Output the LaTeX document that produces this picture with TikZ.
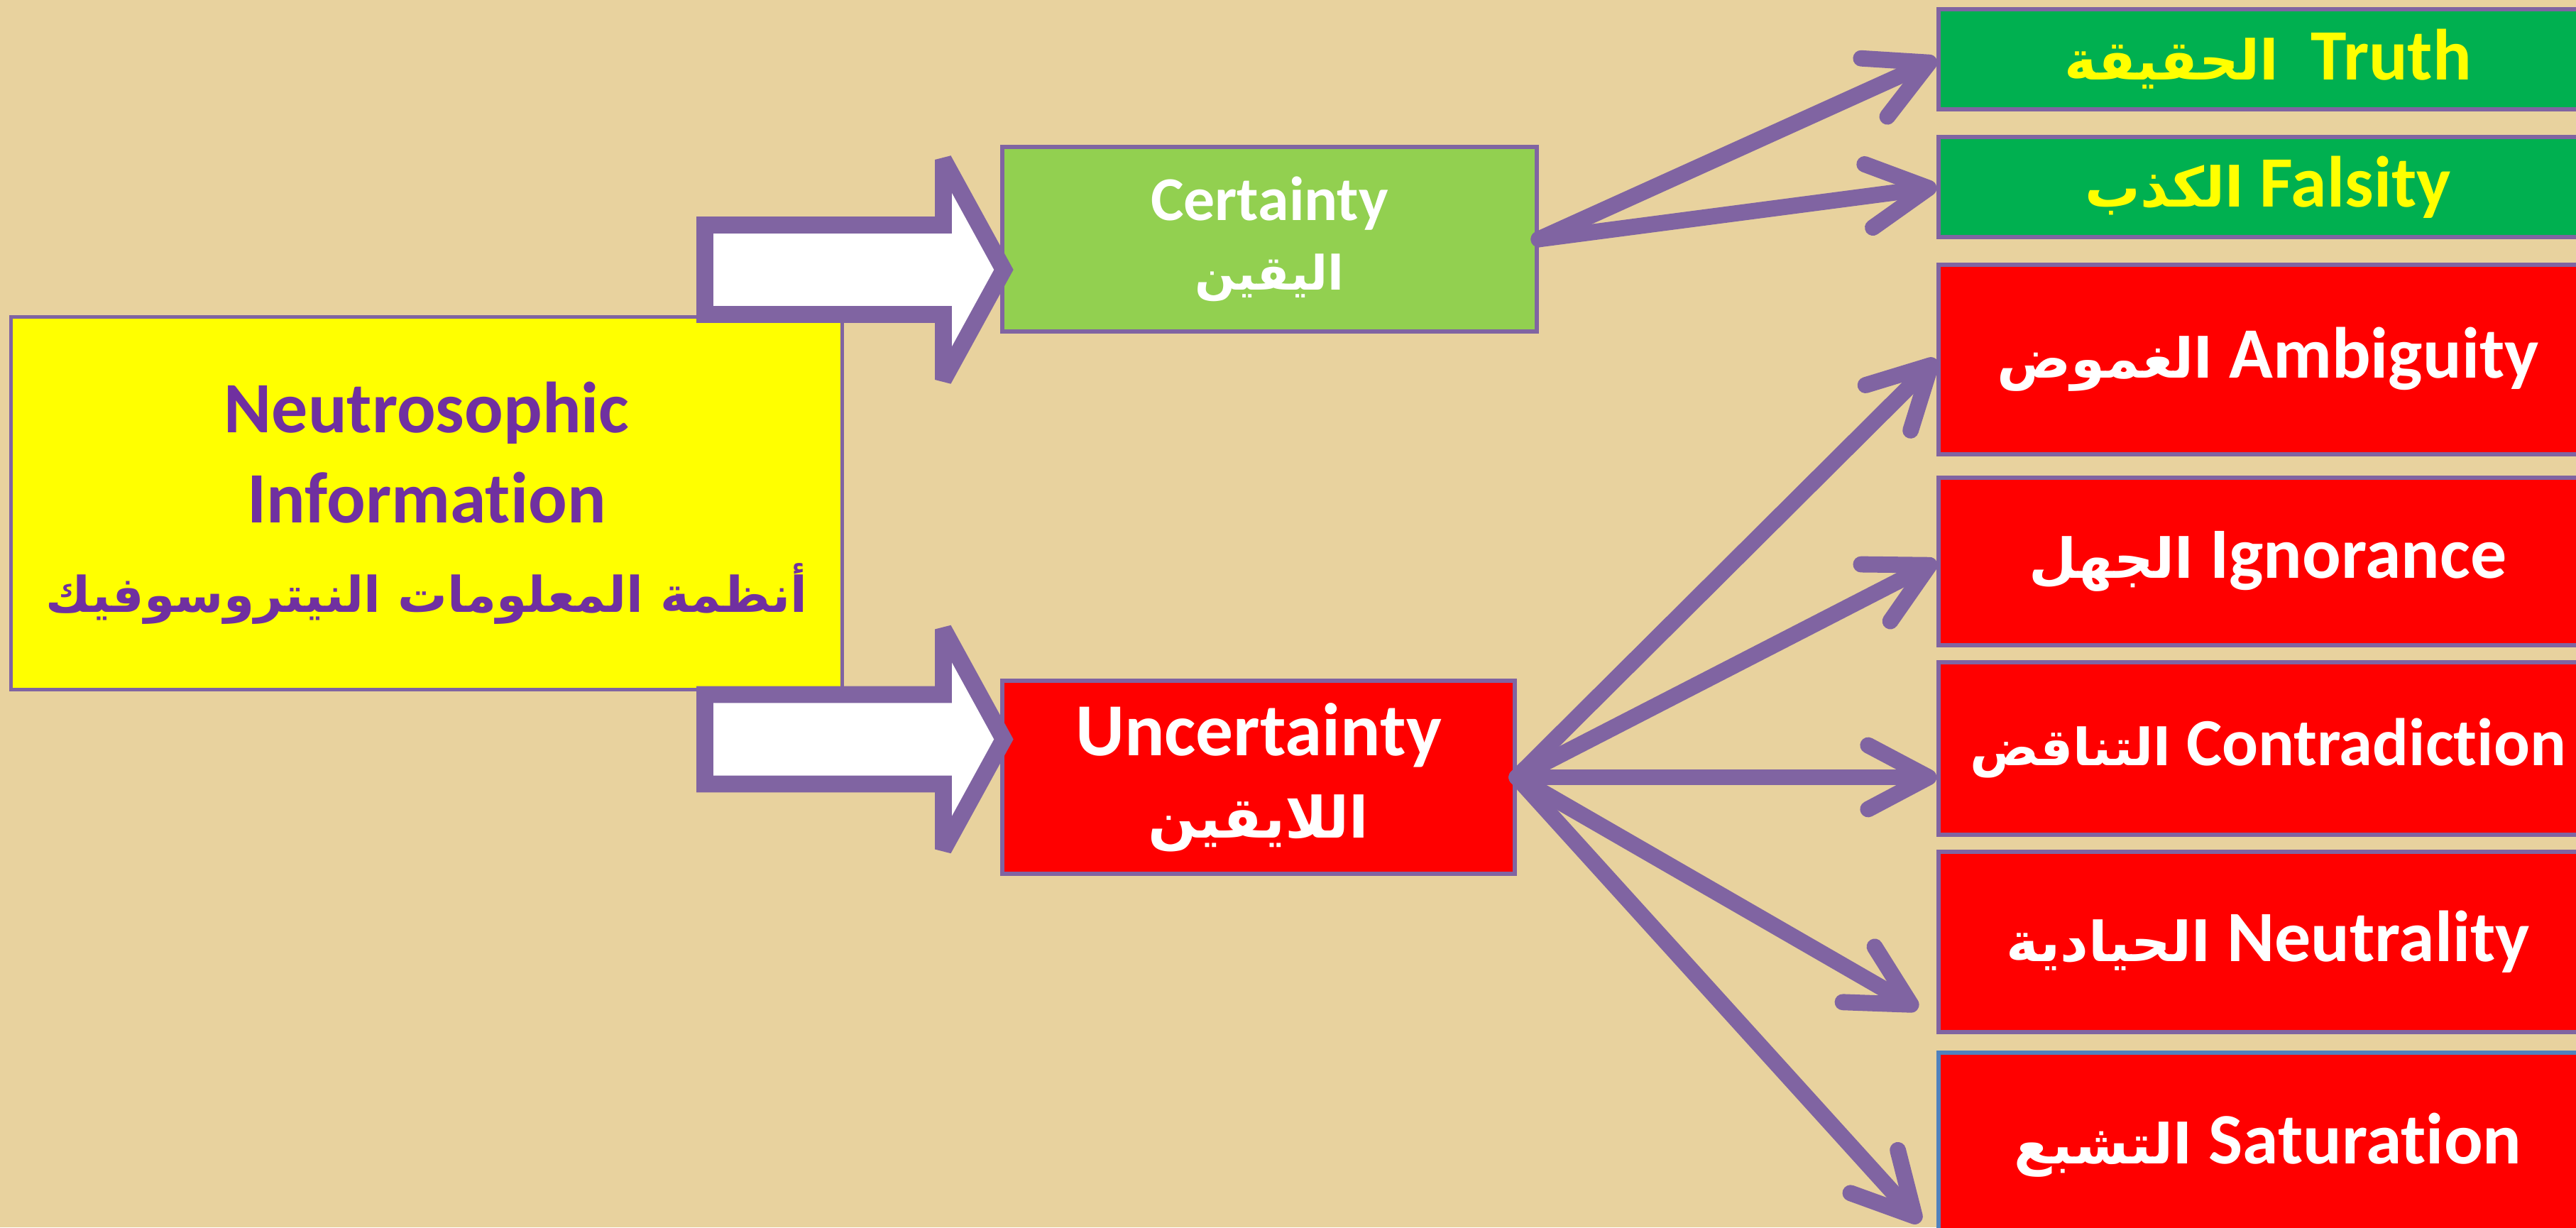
\documentclass[tikz,border=0pt]{standalone}
\usepackage{fontspec}
\setmainfont{Carlito}[Ligatures={NoCommon}]
\newfontfamily\arabicfont[Script=Arabic,Scale=0.76]{DejaVu Sans}
\TeXXeTstate=1
\usetikzlibrary{arrows.meta,positioning}
\definecolor{papyrus}{HTML}{E8D29E}
\definecolor{plum}{HTML}{8064A2}
\definecolor{grape}{HTML}{7030A0}
\definecolor{lemon}{HTML}{FFFF00}
\definecolor{lime}{HTML}{92D050}
\definecolor{leaf}{HTML}{00B050}
\definecolor{steel}{HTML}{4F81BD}
\newcommand{\arab}[1]{{\arabicfont\beginR #1\endR}}
\tikzset{
  box/.style={rectangle, draw=plum, line width=1.6pt, inner sep=0pt, align=center,
    font=\bfseries\fontsize{29}{36}\selectfont},
  sidebox/.style={box, minimum width=9.28cm},
  fatarrow/.style={draw=plum, fill=white, line width=6.8pt, line join=miter, miter limit=2.5},
  link/.style={draw=plum, line width=6.5pt, line cap=round,
    -{Straight Barb[length=8.5mm, width=9mm, line cap=round, line join=round]}}
}

\begin{document}
\begin{tikzpicture}
\useasboundingbox (0,0) rectangle (36.29,17.29);
\clip (0,0) rectangle (36.29,17.29);
\fill[papyrus] (0,0) rectangle (36.29,17.29);

\node[box, fill=lemon, text=grape, minimum width=11.71cm, minimum height=5.25cm] (info) at (6.01,10.2)
  {Neutrosophic\\Information\\{\fontsize{26}{32}\selectfont\arab{أنظمة المعلومات النيتروسوفيك}}};
\node[box, fill=lime, text=white, minimum width=7.53cm, minimum height=2.6cm,
  font=\bfseries\fontsize{25}{28}\selectfont] (cert) at (17.885,13.92) {Certainty\\\arab{اليقين}};
\node[box, fill=red, text=white, minimum width=7.22cm, minimum height=2.72cm,
  font=\bfseries\fontsize{30}{33}\selectfont] (uncert) at (17.73,6.34) {Uncertainty\\\arab{اللايقين}};

\foreach \y in {13.49,6.875}
  \draw[fatarrow] (9.93,\y+0.63) -- (13.29,\y+0.63) -- (13.29,\y+1.55) -- (14.14,\y)
    -- (13.29,\y-1.55) -- (13.29,\y-0.63) -- (9.93,\y-0.63) -- cycle;

\node[sidebox, fill=leaf, text=lemon, minimum height=1.41cm] (truth) at (31.95,16.455) {\arab{الحقيقة}\ \ Truth};
\node[sidebox, fill=leaf, text=lemon, minimum height=1.41cm] (falsity) at (31.95,14.655) {\arab{الكذب} Falsity};
\node[sidebox, fill=red, text=white, minimum height=2.67cm] (ambig) at (31.95,12.225) {\arab{الغموض} Ambiguity};
\node[sidebox, fill=red, text=white, minimum height=2.36cm] (ignor) at (31.95,9.38) {\arab{الجهل} Ignorance};
\node[sidebox, fill=red, text=white, minimum height=2.43cm,
  font=\bfseries\fontsize{27}{33}\selectfont] (contra) at (31.95,6.745) {\arab{التناقض} Contradiction};
\node[sidebox, fill=red, text=white, minimum height=2.54cm] (neutral) at (31.95,4.02) {\arab{الحيادية} Neutrality};
\node[sidebox, fill=red, text=white, draw=steel, minimum height=2.6cm] (satur) at (31.95,1.16) {\arab{التشبع} Saturation};

\coordinate (neutip) at (27.02,3.08);
\coordinate (sattip) at (27.05,0.07);

\draw[link] (cert.east) -- (truth.west);
\draw[link] (cert.east) -- (falsity.west);
\draw[link] (uncert.east) -- (ambig.west);
\draw[link] (uncert.east) -- (ignor.west);
\draw[link] (uncert.east) -- (uncert.east -| contra.west);
\draw[link] (uncert.east) -- (neutip);
\draw[link] (uncert.east) -- (sattip);
\end{tikzpicture}
\end{document}
